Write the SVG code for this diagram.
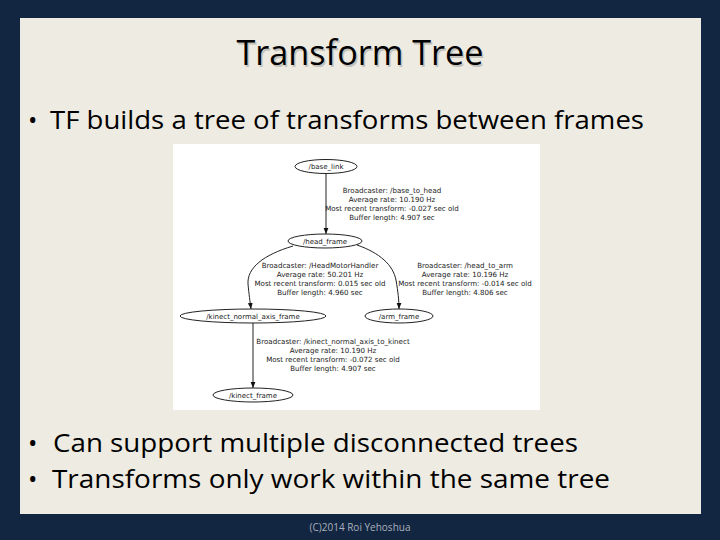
<svg xmlns="http://www.w3.org/2000/svg" width="720" height="540" viewBox="0 0 720 540">
<defs>
<style>
.slide{font-family:"Open Sans","Liberation Sans",sans-serif;fill:#000}
.title{font-size:34px}
.shadow{fill:#c4c2ba}
.bullet{font-size:25px}
.foot{font-family:"Open Sans","Liberation Sans",sans-serif;font-size:10px;fill:#a9b0bd}
.node ellipse{fill:none;stroke:#222;stroke-width:1}
.node text{font-family:"DejaVu Sans","Liberation Sans",sans-serif;font-size:7px;fill:#222;text-anchor:middle}
.lbl{font-family:"DejaVu Sans","Liberation Sans",sans-serif;font-size:7.1px;fill:#222;text-anchor:middle}
.edge{fill:none;stroke:#222;stroke-width:1}
</style>
<marker id="arr" viewBox="0 0 10 10" refX="10" refY="5" markerWidth="6" markerHeight="6" orient="auto" markerUnits="userSpaceOnUse">
<path d="M0,1 L10,5 L0,9 Z" fill="#111"/>
</marker>
</defs>
<rect x="0" y="0" width="720" height="540" fill="#132641"/>
<rect x="20" y="18" width="681" height="496" fill="#eeebe2"/>
<g id="title">
<text class="slide title shadow" x="361.5" y="66.5" text-anchor="middle" textLength="247" lengthAdjust="spacingAndGlyphs">Transform Tree</text>
<text class="slide title" x="360" y="65" text-anchor="middle" textLength="247" lengthAdjust="spacingAndGlyphs">Transform Tree</text>
</g>
<g id="bullets">
<text class="slide bullet" x="28" y="129">•</text>
<text class="slide bullet" x="50" y="129" textLength="594" lengthAdjust="spacingAndGlyphs">TF builds a tree of transforms between frames</text>
<text class="slide bullet" x="28" y="452">•</text>
<text class="slide bullet" x="53" y="452" textLength="525" lengthAdjust="spacingAndGlyphs">Can support multiple disconnected trees</text>
<text class="slide bullet" x="28" y="488">•</text>
<text class="slide bullet" x="52" y="488" textLength="558" lengthAdjust="spacingAndGlyphs">Transforms only work within the same tree</text>
</g>
<text class="foot" x="360" y="531" text-anchor="middle">(C)2014 Roi Yehoshua</text>
<rect x="173" y="144" width="367" height="266" fill="#ffffff"/>
<g id="connectors">
<path class="edge" d="M326,173 L326,234" marker-end="url(#arr)"/>
<path class="edge" d="M293,246 C263,255 247,268 248,284 C249,295 250,301 251,309" marker-end="url(#arr)"/>
<path class="edge" d="M357,245 C380,253 393,265 396,280 C398,292 399,300 399,309" marker-end="url(#arr)"/>
<path class="edge" d="M253,323 L253,388" marker-end="url(#arr)"/>
<text class="lbl" x="392" y="192.5">Broadcaster: /base_to_head</text>
<text class="lbl" x="392" y="201.5">Average rate: 10.190 Hz</text>
<text class="lbl" x="392" y="210.5">Most recent transform: -0.027 sec old</text>
<text class="lbl" x="392" y="219.5">Buffer length: 4.907 sec</text>
<text class="lbl" x="320" y="268">Broadcaster: /HeadMotorHandler</text>
<text class="lbl" x="320" y="277">Average rate: 50.201 Hz</text>
<text class="lbl" x="320" y="286">Most recent transform: 0.015 sec old</text>
<text class="lbl" x="320" y="295">Buffer length: 4.960 sec</text>
<text class="lbl" x="465" y="268">Broadcaster: /head_to_arm</text>
<text class="lbl" x="465" y="277">Average rate: 10.196 Hz</text>
<text class="lbl" x="465" y="286">Most recent transform: -0.014 sec old</text>
<text class="lbl" x="465" y="295">Buffer length: 4.806 sec</text>
<text class="lbl" x="333" y="343.5">Broadcaster: /kinect_normal_axis_to_kinect</text>
<text class="lbl" x="333" y="352.5">Average rate: 10.190 Hz</text>
<text class="lbl" x="333" y="361.5">Most recent transform: -0.072 sec old</text>
<text class="lbl" x="333" y="370.5">Buffer length: 4.907 sec</text>
</g>
<g id="n_base_link" class="node">
<ellipse cx="326" cy="166.5" rx="31" ry="7"/>
<text x="326" y="169">/base_link</text>
</g>
<g id="n_head_frame" class="node">
<ellipse cx="325" cy="241" rx="37" ry="7"/>
<text x="325" y="243.5">/head_frame</text>
</g>
<g id="n_kinect_normal_axis_frame" class="node">
<ellipse cx="253" cy="316" rx="73" ry="7"/>
<text x="253" y="318.5">/kinect_normal_axis_frame</text>
</g>
<g id="n_arm_frame" class="node">
<ellipse cx="399" cy="316" rx="34" ry="7"/>
<text x="399" y="318.5">/arm_frame</text>
</g>
<g id="n_kinect_frame" class="node">
<ellipse cx="253" cy="395" rx="40" ry="7"/>
<text x="253" y="397.5">/kinect_frame</text>
</g>
</svg>
